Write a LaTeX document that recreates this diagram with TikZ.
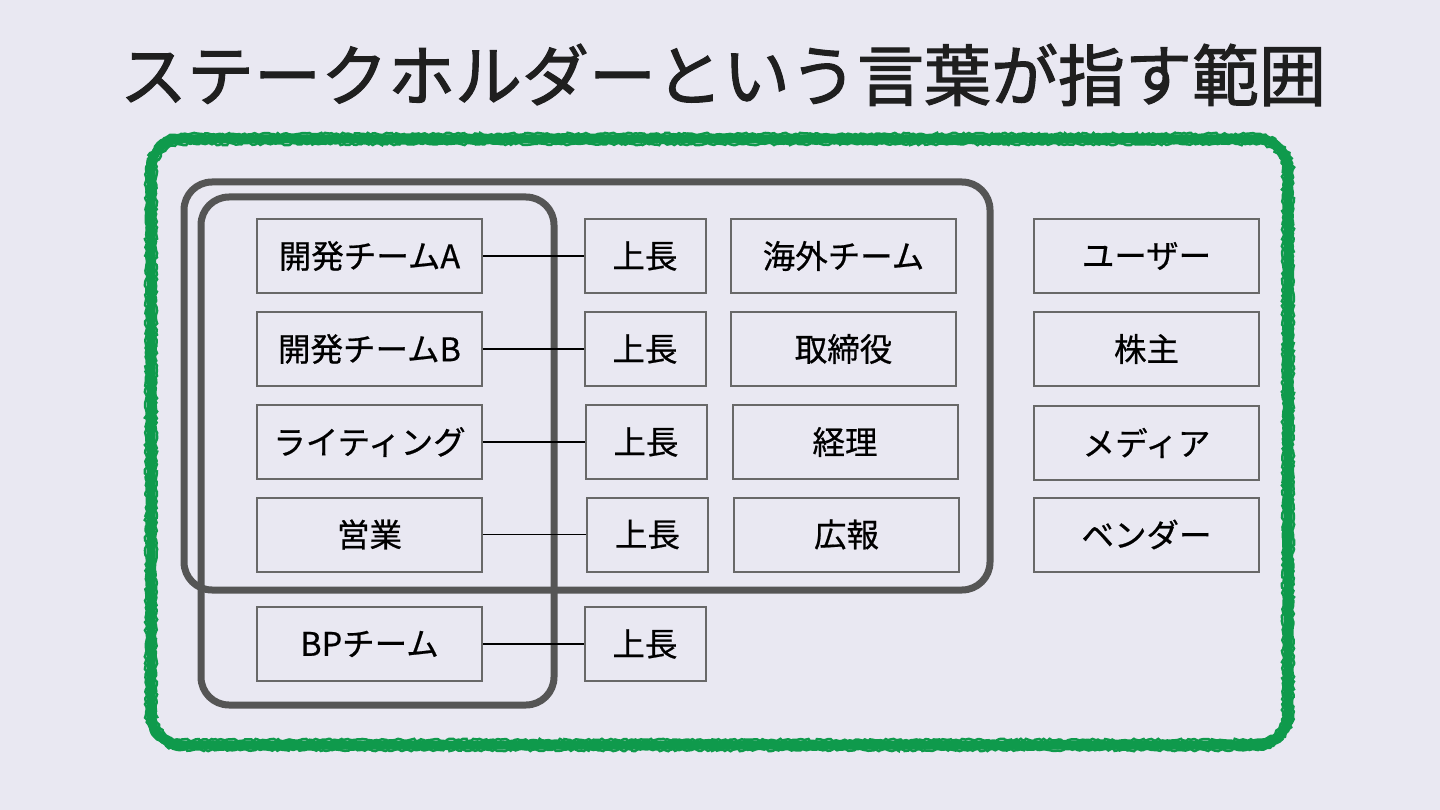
\documentclass[tikz,border=0pt]{standalone}
\usepackage{fontspec}
\setmainfont{Noto Sans CJK JP}[FakeBold=0.6]
\newfontfamily\titlefont{Noto Sans CJK JP}[FakeBold=1.6]
\usetikzlibrary{decorations.pathmorphing}
\definecolor{bg}{HTML}{E9E8F2}
\definecolor{grn}{HTML}{0F9A4C}
\definecolor{dk}{HTML}{555555}
\definecolor{bx}{HTML}{686868}
\tikzset{
  cell/.style={draw=bx, line width=2pt, minimum width=225pt, minimum height=74pt, inner sep=0pt, font=\fontsize{32.5}{32.5}\selectfont, text=black},
  small/.style={cell, minimum width=121pt},
  link/.style={draw=black, line width=1.8pt},
  group/.style={draw=dk, line width=7pt, rounded corners=28pt},
  rough/.style={draw=grn, line width=2.5pt, decorate, decoration={random steps, segment length=2.5pt, amplitude=1.2pt}},
}
\begin{document}
\begin{tikzpicture}[x=1pt,y=-1pt]
\fill[bg] (0,0) rectangle (1440,810);
\useasboundingbox (0,0) rectangle (1440,810);
\node[font=\titlefont\fontsize{67}{67}\selectfont, text=black!88] (title) at (723,75) {ステークホルダーという言葉が指す範囲};
% green rough border
\draw[grn, line width=9pt, rounded corners=30pt] (151,139) rectangle (1288,745);
\draw[rough] (146,169) .. controls (146,152) and (164,134) .. (181,134) -- (1258,134) .. controls (1275,134) and (1293,152) .. (1293,169) -- (1293,715) .. controls (1293,732) and (1275,750) .. (1258,750) -- (181,750) .. controls (164,750) and (146,732) .. (146,715) -- cycle;
\draw[rough] (156,169) .. controls (156,156) and (168,144) .. (181,144) -- (1258,144) .. controls (1271,144) and (1283,156) .. (1283,169) -- (1283,715) .. controls (1283,728) and (1271,740) .. (1258,740) -- (181,740) .. controls (168,740) and (156,728) .. (156,715) -- cycle;
% groups
\draw[group] (184,182) rectangle (990,590);
\draw[group] (201,197) rectangle (554,705);
% column 1
\node[cell] (a1) at (369.5,256) {開発チームA};
\node[cell] (a2) at (369.5,349) {開発チームB};
\node[cell] (a3) at (369.5,442) {ライティング};
\node[cell] (a4) at (369.5,534.5) {営業};
\node[cell] (a5) at (369.5,644) {BPチーム};
% column 2
\node[small] (b1) at (645,256) {上長};
\node[small] (b2) at (645,349) {上長};
\node[small] (b3) at (646,442) {上長};
\node[small] (b4) at (647.5,534.5) {上長};
\node[small] (b5) at (645,644) {上長};
% column 3
\node[cell] (c1) at (843.5,256) {海外チーム};
\node[cell] (c2) at (843.5,349) {取締役};
\node[cell] (c3) at (845,442) {経理};
\node[cell] (c4) at (846.5,534.5) {広報};
% column 4
\node[cell] (d1) at (1146.5,256) {ユーザー};
\node[cell] (d2) at (1146.5,349) {株主};
\node[cell] (d3) at (1146.5,443) {メディア};
\node[cell] (d4) at (1146.5,534.5) {ベンダー};
% links
\draw[link] (a1.east) -- (b1.west);
\draw[link] (a2.east) -- (b2.west);
\draw[link] (a3.east) -- (b3.west);
\draw[link] (a4.east) -- (b4.west);
\draw[link] (a5.east) -- (b5.west);
\end{tikzpicture}
\end{document}
